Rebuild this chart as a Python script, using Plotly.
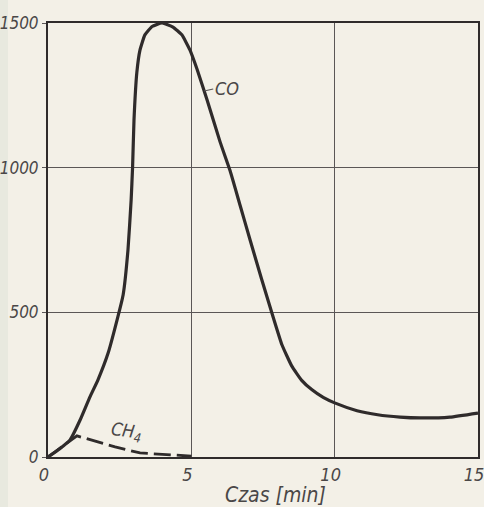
import plotly.graph_objects as go

# CO and CH4 concentration vs. time
co_t = [0, 0.4, 0.77, 1.12, 1.46, 1.74, 2.1, 2.41, 2.62, 2.79, 2.90, 2.95, 3.0, 3.10, 3.21,
        3.38, 3.63, 3.98, 4.36, 4.67, 4.95, 5.2, 5.55, 6.0, 6.35, 6.7, 7.05, 7.45, 7.85,
        8.16, 8.5, 8.85, 9.21, 9.6, 10.0, 10.78, 11.5, 12.28, 12.98, 14.02, 15.0]
co_v = [0, 28, 59, 128, 207, 266, 360, 474, 560, 716, 888, 1000, 1165, 1330, 1407,
        1459, 1488, 1500, 1486, 1459, 1407, 1340, 1234, 1090, 990, 870, 750, 615, 485,
        388, 315, 265, 232, 206, 187, 160, 146, 138, 135, 138, 152]

ch4_t = [0, 1.01, 1.74, 2.34, 3.21, 4.19, 5.0]
ch4_v = [0, 73, 52, 35, 14, 7, 3]

x_ticks = [0, 5, 10, 15]
y_ticks = [0, 500, 1000, 1500]
y_tick_text = ["0", "500", "1000", "1500"]

ink = "#2f2b2b"
grid = "#5a5656"
paper = "#f3f0e7"
text_col = "#4a4747"
label_font = dict(family="DejaVu Sans Condensed", size=17, color=text_col, style="italic")

fig = go.Figure()
fig.add_trace(go.Scatter(x=co_t, y=co_v, mode="lines",
                         line=dict(color=ink, width=3.2, shape="spline", smoothing=0.4),
                         showlegend=False, hoverinfo="skip"))
fig.add_trace(go.Scatter(x=ch4_t, y=ch4_v, mode="lines",
                         line=dict(color=ink, width=2.8, dash="17px,6px"),
                         showlegend=False, hoverinfo="skip"))

# page edge strip on the left
fig.add_shape(type="rect", xref="paper", yref="paper", x0=-0.2, x1=-0.093, y0=-0.2, y1=1.1,
              fillcolor="#e8e9df", line=dict(width=0), layer="below")

fig.add_annotation(x=5.45, y=1265, ax=9, ay=-2, text="CO", showarrow=True, arrowhead=0,
                   arrowwidth=1.2, arrowcolor="#5a5656", xanchor="left",
                   font=dict(family="DejaVu Sans Condensed", size=18, color=text_col, style="italic"))
fig.add_annotation(x=2.75, y=88, text="CH<sub>4</sub>", showarrow=False, textangle=8,
                   font=dict(family="DejaVu Sans Condensed", size=18, color=text_col, style="italic"))
fig.add_annotation(xref="paper", yref="paper", x=0.53, y=-0.088, yanchor="middle", text="Czas [min]",
                   showarrow=False,
                   font=dict(family="DejaVu Sans Condensed", size=21, color=text_col, style="italic"))

fig.update_xaxes(range=[0, 15], tickvals=x_ticks, showgrid=True, gridcolor=grid, gridwidth=1.4,
                 showline=True, linecolor=ink, linewidth=2, mirror=True, ticks="", zeroline=False,
                 tickfont=dict(family="DejaVu Sans Condensed", size=18, color=text_col, style="italic"),
                 ticklabeloverflow="allow", ticklabelshift=-4, ticklabelstandoff=0)
fig.update_yaxes(range=[0, 1500], tickvals=y_ticks, ticktext=y_tick_text, showgrid=True, gridcolor=grid,
                 gridwidth=1.4, showline=True, linecolor=ink, linewidth=2, mirror=True, ticks="outside",
                 ticklen=4, tickcolor=grid, zeroline=False, tickfont=label_font,
                 ticklabeloverflow="allow", ticklabelstandoff=0)

fig.update_layout(width=484, height=507, margin=dict(l=48, r=6, t=23, b=50, autoexpand=False),
                  paper_bgcolor=paper, plot_bgcolor=paper)

fig.write_html("out.html")
